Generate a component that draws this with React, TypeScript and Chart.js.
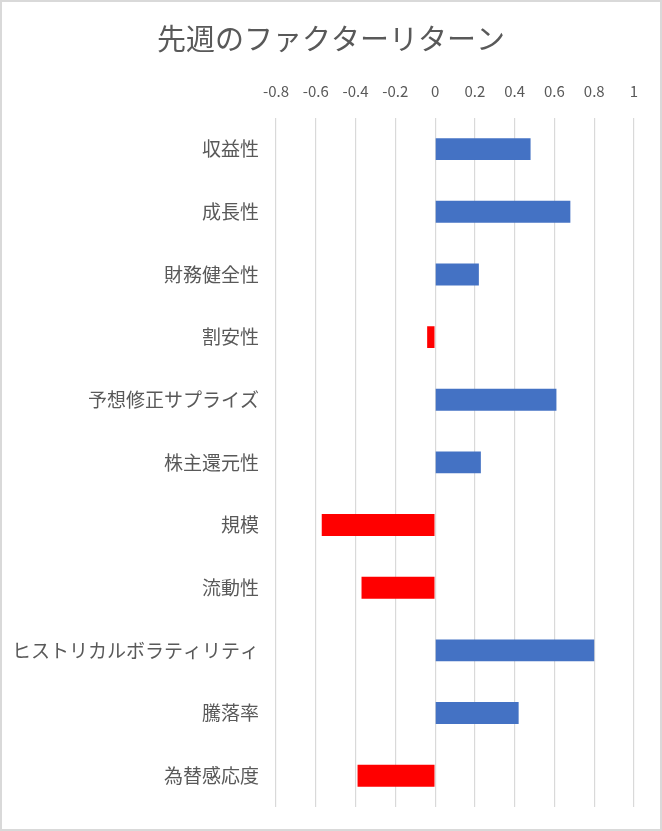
import React, { useEffect, useRef } from 'react';
import { Chart, registerables } from 'chart.js';

Chart.register(...registerables);

const factors = [
  '収益性',
  '成長性',
  '財務健全性',
  '割安性',
  '予想修正サプライズ',
  '株主還元性',
  '規模',
  '流動性',
  'ヒストリカルボラティリティ',
  '騰落率',
  '為替感応度',
];
const returns = [0.48, 0.68, 0.22, -0.04, 0.61, 0.23, -0.57, -0.37, 0.8, 0.42, -0.39];

const POS_COLOR = '#4472C4';
const NEG_COLOR = '#FF0000';
const TEXT = '#595959';
const FONT = "'Noto Sans CJK JP', 'Noto Sans', sans-serif";

export default function App() {
  const canvasRef = useRef<HTMLCanvasElement>(null);
  const chartRef = useRef<Chart | null>(null);

  useEffect(() => {
    if (!canvasRef.current) return;
    if (chartRef.current) chartRef.current.destroy();

    chartRef.current = new Chart(canvasRef.current, {
      type: 'bar',
      data: {
        labels: factors,
        datasets: [
          {
            label: 'リターン',
            data: returns,
            backgroundColor: returns.map((v) => (v < 0 ? NEG_COLOR : POS_COLOR)),
            borderWidth: 0,
            barPercentage: 0.35,
            categoryPercentage: 1,
          },
        ],
      },
      options: {
        indexAxis: 'y',
        animation: false,
        responsive: true,
        maintainAspectRatio: false,
        layout: { padding: { left: 0, right: 0, top: 0, bottom: 22 } },
        scales: {
          x: {
            position: 'top',
            min: -0.8,
            max: 1,
            ticks: {
              stepSize: 0.2,
              padding: 18,
              color: TEXT,
              font: { family: FONT, size: 15 },
              callback: (v) => String(Math.round(Number(v) * 10) / 10),
            },
            grid: { color: '#d9d9d9', lineWidth: 1.2, drawTicks: false },
            border: { display: false },
          },
          y: {
            ticks: {
              padding: 17,
              color: TEXT,
              font: { family: FONT, size: 19 },
            },
            grid: { display: false, drawTicks: false },
            border: { display: false },
            afterFit: (scale: any) => {
              scale.width = 274;
              scale.paddingTop = 0;
              scale.paddingBottom = 0;
            },
          },
          // empty spacer on the right so the title stays centred on the frame
          yRight: {
            type: 'category',
            position: 'right',
            ticks: { display: false },
            grid: { display: false, drawTicks: false },
            border: { display: false },
            afterFit: (scale: any) => {
              scale.width = 26;
              scale.paddingTop = 0;
              scale.paddingBottom = 0;
            },
          },
        },
        plugins: {
          legend: { display: false },
          tooltip: { enabled: false },
          title: {
            display: true,
            text: '先週のファクターリターン',
            color: TEXT,
            font: { family: FONT, size: 29, weight: 'normal' },
            padding: { top: 20, bottom: 7 },
          },
        },
      },
    });

    return () => {
      if (chartRef.current) {
        chartRef.current.destroy();
        chartRef.current = null;
      }
    };
  }, []);

  return (
    <div
      style={{
        position: 'absolute',
        left: 0,
        top: 0,
        width: 662,
        height: 831,
        boxSizing: 'border-box',
        border: '2px solid #d9d9d9',
        background: '#fff',
      }}
    >
      <div style={{ position: 'relative', width: '100%', height: '100%' }}>
        <canvas ref={canvasRef} />
      </div>
    </div>
  );
}
